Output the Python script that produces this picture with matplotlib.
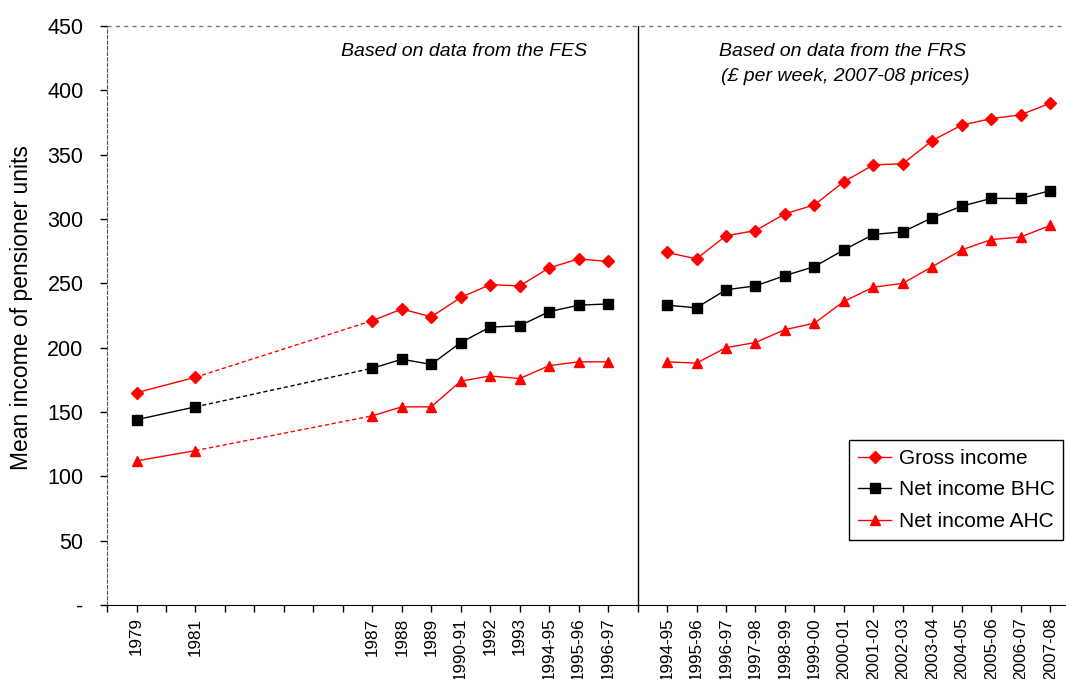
import matplotlib
matplotlib.use("Agg")
import matplotlib.pyplot as plt
import numpy as np

plt.rcParams['font.family'] = ['Liberation Sans', 'DejaVu Sans']

# FES-based series (survey years)
fes_labels = ["1979", "1981", "1987", "1988", "1989", "1990-91", "1992", "1993",
              "1994-95", "1995-96", "1996-97"]
fes_gross = [165, 177, 221, 230, 224, 239, 249, 248, 262, 269, 267]
fes_bhc = [144, 154, 184, 191, 187, 204, 216, 217, 228, 233, 234]
fes_ahc = [112, 120, 147, 154, 154, 174, 178, 176, 186, 189, 189]

# FRS-based series
frs_labels = ["1994-95", "1995-96", "1996-97", "1997-98", "1998-99", "1999-00",
              "2000-01", "2001-02", "2002-03", "2003-04", "2004-05", "2005-06",
              "2006-07", "2007-08"]
frs_gross = [274, 269, 287, 291, 304, 311, 329, 342, 343, 361, 373, 378, 381, 390]
frs_bhc = [233, 231, 245, 248, 256, 263, 276, 288, 290, 301, 310, 316, 316, 322]
frs_ahc = [189, 188, 200, 204, 214, 219, 236, 247, 250, 263, 276, 284, 286, 295]

y_ticks = [0, 50, 100, 150, 200, 250, 300, 350, 400, 450]
y_tick_labels = ["-", "50", "100", "150", "200", "250", "300", "350", "400", "450"]

# category slots on the x axis (one slot per year, gaps left empty)
fes_pos = np.array([0, 2] + list(range(8, 17)))
frs_pos = np.arange(18, 32)
divider = 17

fig = plt.figure(figsize=(10.66, 6.79), dpi=100)
ax = fig.add_axes([0.1004, 0.109, 0.8986, 0.8527])

series = [
    ("Gross income", fes_gross, frs_gross, "red", "D", 6),
    ("Net income BHC", fes_bhc, frs_bhc, "black", "s", 7),
    ("Net income AHC", fes_ahc, frs_ahc, "red", "^", 7.5),
]

for name, fes, frs, col, mk, ms in series:
    fes = np.array(fes, dtype=float)
    # 1979-1981 segment
    ax.plot(fes_pos[:2], fes[:2], color=col, lw=1, marker=mk, ms=ms, mec=col, mfc=col)
    # dashed link across the missing years
    ax.plot(fes_pos[1:3], fes[1:3], color=col, lw=1, ls=(0, (3, 2)))
    # 1987 onward
    ax.plot(fes_pos[2:], fes[2:], color=col, lw=1, marker=mk, ms=ms, mec=col, mfc=col)
    ax.plot(frs_pos, frs, color=col, lw=1, marker=mk, ms=ms, mec=col, mfc=col,
            label=name)

ax.axvline(divider, ymin=0, ymax=1, color="black", lw=1)

ax.set_xlim(-1, 31.5)
ax.set_ylim(0, 450)

ax.set_yticks(y_ticks)
ax.set_yticklabels(y_tick_labels, fontsize=15.5)
ax.set_xticks(list(fes_pos) + list(frs_pos))
ax.set_xticklabels(fes_labels + frs_labels, rotation=90, fontsize=12.3)
ax.set_xticks(np.arange(-1, 32), minor=True)
ax.tick_params(axis="x", which="both", length=5, width=1, direction="out", pad=4)
ax.tick_params(axis="y", length=5, width=1, direction="out", pad=12)

for s in ["top", "right"]:
    ax.spines[s].set_visible(False)
ax.spines["left"].set_linestyle((0, (3, 2)))
ax.spines["left"].set_color("#555555")
ax.spines["bottom"].set_color("black")
ax.axhline(450, color="#777777", lw=1, ls=(0, (3, 3)), clip_on=False)

ax.set_ylabel("Mean income of pensioner units", fontsize=16.5)
ax.yaxis.set_label_coords(-0.077, 0.513)

ax.text(11.1, 430, "Based on data from the FES", fontsize=14, style="italic",
        ha="center", va="center")
ax.text(19.76, 430, "Based on data from the FRS", fontsize=14, style="italic",
        ha="left", va="center")
ax.text(19.82, 411, "(£ per week, 2007-08 prices)", fontsize=14, style="italic",
        ha="left", va="center")

leg = ax.legend(loc="lower right", bbox_to_anchor=(1.0026, 0.1058), fontsize=15,
                frameon=True, fancybox=False, edgecolor="black", framealpha=1,
                handlelength=1.6, borderpad=0.42, labelspacing=0.6, handletextpad=0.35,
                borderaxespad=0.2)
leg.get_frame().set_linewidth(1)

fig.savefig("out.png", dpi=100)
